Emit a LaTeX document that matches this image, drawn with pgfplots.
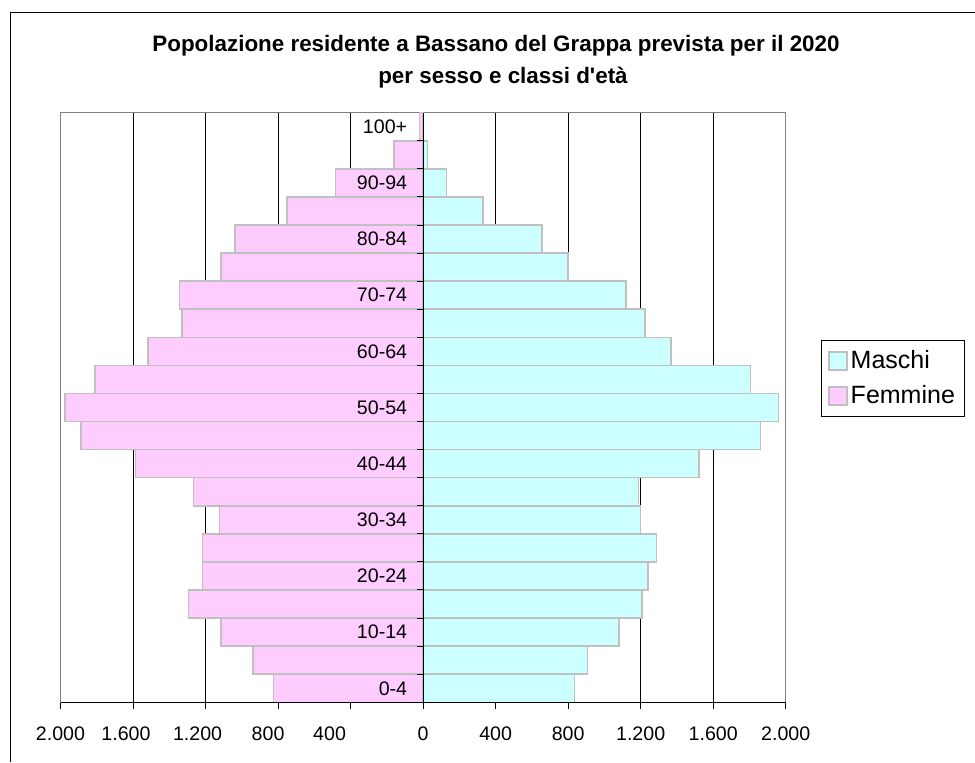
\documentclass[border=0pt]{standalone}
\usepackage{pgfplots}
\usepackage{pgfplotstable}
\pgfplotsset{compat=1.18}
\usepackage{fontspec}
\setmainfont{Liberation Sans}

\definecolor{maschi}{HTML}{CCFFFF}
\definecolor{femmine}{HTML}{FFCCFF}
\definecolor{barline}{HTML}{C0C0C0}
\definecolor{framegray}{HTML}{808080}

\tikzset{agelabel/.style={anchor=east, inner sep=0pt, font=\fontsize{9.8}{11}\selectfont}}

% classi d'eta: 0 = 0-4, 1 = 5-9, ..., 20 = 100+
\pgfplotstableread{
age male female
0  835  -826
1  908  -939
2  1081 -1114
3  1206 -1293
4  1240 -1218
5  1286 -1218
6  1198 -1123
7  1189 -1266
8  1521 -1585
9  1862 -1888
10 1961 -1976
11 1807 -1811
12 1367 -1517
13 1224 -1330
14 1119 -1343
15 798  -1114
16 657  -1037
17 330  -752
18 130  -483
19 24   -160
20 3    -20
}\pyramid

\begin{document}
\begin{tikzpicture}
\path[use as bounding box] (0,0) rectangle (487.5pt,381pt);
\draw[black, line width=0.5pt] (5pt,0) -- (5pt,374.5pt) -- (487.5pt,374.5pt);
\node[anchor=base, inner sep=0pt, font=\bfseries\fontsize{11.2}{13}\selectfont] at (248pt,355.2pt)
  {Popolazione residente a Bassano del Grappa prevista per il 2020};
\node[anchor=base, inner sep=0pt, font=\bfseries\fontsize{11.2}{13}\selectfont] at (251.5pt,339.4pt)
  {per sesso e classi d\textquotesingle età};
\begin{axis}[
  at={(30.25pt,29.85pt)}, anchor=south west,
  width=362.6pt, height=294.8pt, scale only axis,
  xbar, bar shift=0pt, bar width=1,
  xmin=-2000, xmax=2000, ymin=-0.5, ymax=20.5,
  xtick={-2000,-1600,...,2000},
  xticklabels={2.000,1.600\kern7pt,1.200\kern8pt,800\kern10pt,400\kern21pt,0,400,800,1.200,1.600,2.000},
  xtick pos=bottom,
  tick align=outside, major tick length=3.5pt,
  x tick style={black, line width=0.5pt},
  xticklabel style={yshift=-5pt, font=\fontsize{9.8}{11}\selectfont},
  xmajorgrids, major grid style={black, line width=0.4pt},
  ytick=\empty,
  axis line style={framegray, line width=0.6pt},
  legend style={at={(1.0483,0.6145)}, anchor=north west, draw=black, line width=0.5pt,
    font=\fontsize{12.5}{14}\selectfont, inner xsep=3.5pt, inner ysep=3pt,
    nodes={inner xsep=1.5pt, inner ysep=2pt}, row sep=3pt},
  legend cell align=left,
  legend image code/.code={\draw[#1] (0pt,-4.5pt) rectangle (9pt,4.5pt);},
]
\addplot[draw=barline, fill=maschi, line width=0.75pt] table[x=male, y=age] {\pyramid};
\addplot[draw=barline, fill=femmine, line width=0.75pt] table[x=female, y=age] {\pyramid};
\draw[black, line width=0.5pt] (axis cs:0,-0.5) -- (axis cs:0,20.5);
\pgfplotsinvokeforeach{0,...,20}{\draw[black, line width=0.5pt] (axis cs:0,#1-0.5) -- (axis cs:-33,#1-0.5);}
\draw[black, line width=0.5pt] (axis cs:-2000,-0.5) -- (axis cs:2000,-0.5);
% etichette delle classi, sopra le barre
\foreach \k/\lab in {0/0-4,2/10-14,4/20-24,6/30-34,8/40-44,10/50-54,12/60-64,14/70-74,16/80-84,18/90-94,20/100+}{
  \edef\tmp{\noexpand\node[agelabel] at (axis cs:-86,\k) {\lab};}\tmp
}
\legend{Maschi,Femmine}
\end{axis}
\end{tikzpicture}
\end{document}
